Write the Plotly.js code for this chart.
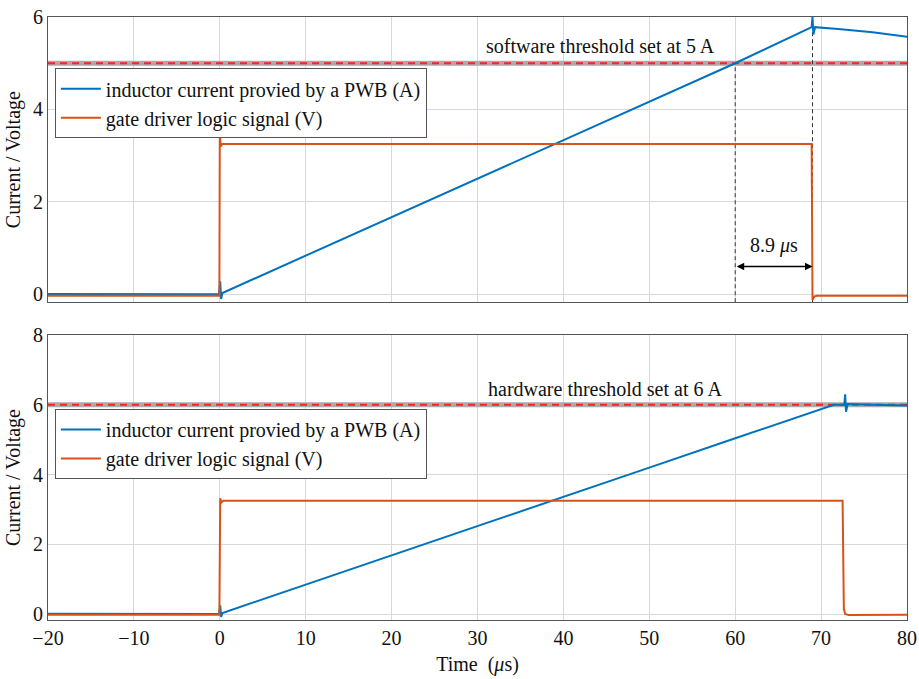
<!DOCTYPE html>
<html>
<head>
<meta charset="utf-8">
<script src="https://cdn.plot.ly/plotly-3.0.1.min.js"></script>
<style>html,body{margin:0;padding:0;background:#fff;}#chart{width:919px;height:679px;}</style>
</head>
<body>
<div id="chart"></div>
<script>
// ---- Top panel (software threshold) ----
const swTime    = [-20, -10, -0.1, 0.05, 0.15, 0.3, 10, 20, 30, 40, 50, 60, 68.9, 69.0, 69.1, 69.3, 72, 76, 80];
const swCurrent = [0.01, 0.01, 0.0, 0.28, -0.1, 0.03, 0.84, 1.67, 2.5, 3.33, 4.17, 5.0, 5.78, 6.0, 5.62, 5.78, 5.74, 5.67, 5.57];
const swGateTime = [-20, -10, -0.05, 0.0, 0.1, 0.3, 30, 68.9, 69.0, 69.2, 69.5, 80];
const swGate     = [-0.03, -0.03, -0.03, 3.55, 3.2, 3.25, 3.25, 3.25, -0.12, -0.05, -0.03, -0.03];

// ---- Bottom panel (hardware threshold) ----
const hwTime    = [-20, -10, -0.1, 0.05, 0.15, 0.3, 10, 20, 30, 40, 50, 60, 70, 71.5, 72.7, 72.8, 72.9, 73.1, 76, 80];
const hwCurrent = [0.01, 0.01, 0.0, 0.25, -0.08, 0.03, 0.84, 1.68, 2.52, 3.36, 4.2, 5.04, 5.88, 6.0, 6.0, 6.3, 5.8, 6.02, 6.0, 5.98];
const hwGateTime = [-20, -10, -0.05, 0.05, 0.2, 0.4, 30, 72.5, 72.65, 72.8, 73.2, 80];
const hwGate     = [-0.02, -0.02, -0.02, 3.32, 3.2, 3.25, 3.25, 3.25, 0.15, 0.0, -0.03, -0.02];

// ---- Reference values ----
const swThreshold = 5;
const hwThreshold = 6;
const tCross = 60;
const tOff = 69;
const delayLabel = '8.9 <i>μ</i>s';
const xRange = [-20, 80];
const topYRange = [-0.17, 6];
const botYRange = [-0.17, 8];
const xTicks = [-20, -10, 0, 10, 20, 30, 40, 50, 60, 70, 80];
const topYTicks = [0, 2, 4, 6];
const botYTicks = [0, 2, 4, 6, 8];
const names = ['inductor current provied by a PWB (A)', 'gate driver logic signal (V)'];

const BLUE = '#0072BD', ORANGE = '#D95319', RED = '#ff2020', GRAYTH = '#aaaaaa';
const FONT = 'Liberation Serif';
const FS = 20;

const traces = [
  {x: xRange, y: [swThreshold, swThreshold], xaxis: 'x', yaxis: 'y', mode: 'lines', line: {color: GRAYTH, width: 5}, showlegend: false, hoverinfo: 'skip'},
  {x: xRange, y: [swThreshold, swThreshold], xaxis: 'x', yaxis: 'y', mode: 'lines', line: {color: RED, width: 2, dash: '7px,5px'}, showlegend: false, hoverinfo: 'skip'},
  {x: [tCross, tCross], y: [topYRange[0], swThreshold], xaxis: 'x', yaxis: 'y', mode: 'lines', line: {color: '#333', width: 1, dash: '4px,3px'}, showlegend: false, hoverinfo: 'skip'},
  {x: [tOff, tOff], y: [topYRange[0], topYRange[1]], xaxis: 'x', yaxis: 'y', mode: 'lines', line: {color: '#333', width: 1, dash: '4px,3px'}, showlegend: false, hoverinfo: 'skip'},
  {x: swTime, y: swCurrent, xaxis: 'x', yaxis: 'y', mode: 'lines', name: names[0], line: {color: BLUE, width: 2}, legend: 'legend'},
  {x: swGateTime, y: swGate, xaxis: 'x', yaxis: 'y', mode: 'lines', name: names[1], line: {color: ORANGE, width: 2}, legend: 'legend'},
  {x: xRange, y: [hwThreshold, hwThreshold], xaxis: 'x2', yaxis: 'y2', mode: 'lines', line: {color: GRAYTH, width: 5}, showlegend: false, hoverinfo: 'skip'},
  {x: xRange, y: [hwThreshold, hwThreshold], xaxis: 'x2', yaxis: 'y2', mode: 'lines', line: {color: RED, width: 2, dash: '7px,5px'}, showlegend: false, hoverinfo: 'skip'},
  {x: hwTime, y: hwCurrent, xaxis: 'x2', yaxis: 'y2', mode: 'lines', name: names[0], line: {color: BLUE, width: 2}, legend: 'legend2'},
  {x: hwGateTime, y: hwGate, xaxis: 'x2', yaxis: 'y2', mode: 'lines', name: names[1], line: {color: ORANGE, width: 2}, legend: 'legend2'}
];

const axisCommon = {
  showgrid: true, gridcolor: '#d9d9d9', gridwidth: 1,
  zeroline: false, showline: true, linecolor: '#555', linewidth: 1, mirror: true,
  ticks: '', tickfont: {family: FONT, size: FS, color: '#111'}
};

const legendCommon = {
  bgcolor: '#ffffff', bordercolor: '#555', borderwidth: 1,
  font: {family: FONT, size: FS, color: '#111'},
  xanchor: 'left', yanchor: 'top', tracegroupgap: 0, itemwidth: 40
};

const layout = {
  width: 919, height: 679,
  margin: {l: 48, r: 12, t: 17, b: 59},
  paper_bgcolor: '#fff', plot_bgcolor: '#fff',
  font: {family: FONT, color: '#111'},
  xaxis: Object.assign({}, axisCommon, {domain: [0, 1], range: xRange, tickvals: xTicks, showticklabels: false, anchor: 'y'}),
  yaxis: Object.assign({}, axisCommon, {domain: [0.527, 1], range: topYRange, tickvals: topYTicks, anchor: 'x',
    title: {text: 'Current / Voltage', font: {family: FONT, size: FS, color: '#111'}, standoff: 6}}),
  xaxis2: Object.assign({}, axisCommon, {domain: [0, 1], range: xRange, tickvals: xTicks, anchor: 'y2',
    title: {text: 'Time  (<i>μ</i>s)', font: {family: FONT, size: FS, color: '#111'}, standoff: 8}}),
  yaxis2: Object.assign({}, axisCommon, {domain: [0, 0.4726], range: botYRange, tickvals: botYTicks, anchor: 'x2',
    title: {text: 'Current / Voltage', font: {family: FONT, size: FS, color: '#111'}, standoff: 6}}),
  legend: Object.assign({}, legendCommon, {x: 0.008, y: 0.915}),
  legend2: Object.assign({}, legendCommon, {x: 0.008, y: 0.35}),
  annotations: [
    {xref: 'x', yref: 'y', x: 44.3, y: 5.37, text: 'software threshold set at 5 A', showarrow: false,
     font: {family: FONT, size: FS, color: '#111'}},
    {xref: 'x2', yref: 'y2', x: 44.8, y: 6.45, text: 'hardware threshold set at 6 A', showarrow: false,
     font: {family: FONT, size: FS, color: '#111'}},
    {xref: 'x', yref: 'y', x: (tCross + tOff) / 2, y: 1.05, text: delayLabel, showarrow: false,
     font: {family: FONT, size: FS, color: '#111'}},
    {xref: 'x', yref: 'y', axref: 'x', ayref: 'y', x: tOff, y: 0.6, ax: tCross, ay: 0.6, text: '',
     showarrow: true, arrowhead: 2, arrowside: 'end+start', arrowsize: 1, arrowwidth: 1.5, arrowcolor: '#000',
     standoff: 0, startstandoff: 0}
  ]
};

Plotly.newPlot('chart', traces, layout, {displayModeBar: false, staticPlot: true});
</script>
</body>
</html>
